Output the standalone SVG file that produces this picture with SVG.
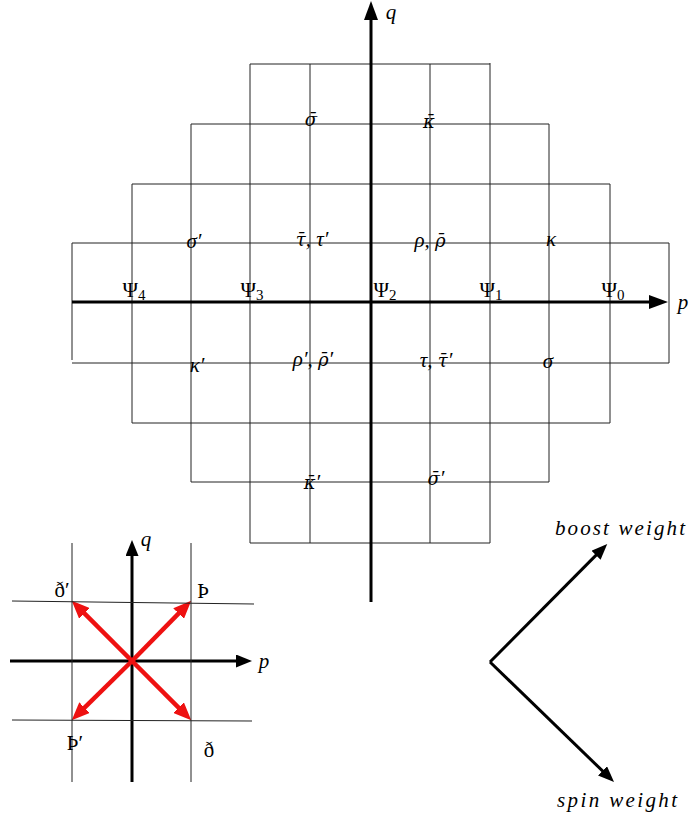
<svg xmlns="http://www.w3.org/2000/svg" width="690" height="823" viewBox="0 0 690 823">
<style>
.grid line{stroke:#222;stroke-width:1;fill:none}
.ax{stroke:#000;stroke-width:3;fill:none}
.red{stroke:#ee1111;stroke-width:4.5;fill:none}
.m{font-family:"Liberation Serif","DejaVu Serif",serif;font-style:italic;font-size:21px;fill:#000;text-anchor:middle}
.u{font-family:"Liberation Serif","DejaVu Serif",serif;font-size:21px;fill:#000;text-anchor:middle}
.s{font-size:15px;font-style:normal}
.ol{font-family:"DejaVu Serif",serif;font-size:18px}
</style>
<defs>
<marker id="ah" markerUnits="userSpaceOnUse" markerWidth="19" markerHeight="14" refX="11" refY="7" orient="auto"><path d="M0,0 L19,7 L0,14 z" fill="#000"/></marker>
<marker id="ahs" markerUnits="userSpaceOnUse" markerWidth="16" markerHeight="13" refX="9" refY="6.5" orient="auto"><path d="M0,0 L16,6.5 L0,13 z" fill="#000"/></marker>
<marker id="ar" markerUnits="userSpaceOnUse" markerWidth="18" markerHeight="15" refX="11" refY="7.5" orient="auto"><path d="M0,0 L18,7.5 L0,15 z" fill="#ee1111"/></marker>
</defs>

<g id="main-grid" class="grid">
<line x1="250" y1="64" x2="490" y2="64"/>
<line x1="191" y1="124" x2="549" y2="124"/>
<line x1="132" y1="184" x2="610" y2="184"/>
<line x1="72" y1="243" x2="669" y2="243"/>
<line x1="72" y1="363" x2="669" y2="363"/>
<line x1="132" y1="423" x2="610" y2="423"/>
<line x1="191" y1="482" x2="549" y2="482"/>
<line x1="250" y1="543" x2="490" y2="543"/>
<line x1="72" y1="243" x2="72" y2="360"/>
<line x1="132" y1="184" x2="132" y2="423"/>
<line x1="191" y1="124" x2="191" y2="482"/>
<line x1="250" y1="64" x2="250" y2="543"/>
<line x1="310" y1="64" x2="310" y2="543"/>
<line x1="430" y1="64" x2="430" y2="543"/>
<line x1="490" y1="63" x2="490" y2="543"/>
<line x1="549" y1="124" x2="549" y2="482"/>
<line x1="610" y1="184" x2="610" y2="423"/>
<line x1="669" y1="243" x2="669" y2="363"/>
</g>

<g id="connectors">
<line class="ax" x1="72" y1="302" x2="660" y2="302" marker-end="url(#ah)"/>
<line class="ax" x1="371" y1="602" x2="371" y2="9" marker-end="url(#ah)"/>
<line class="ax" x1="10" y1="661" x2="245" y2="661" marker-end="url(#ahs)"/>
<line class="ax" x1="132" y1="782" x2="132" y2="547" marker-end="url(#ahs)"/>
<line class="red" x1="132" y1="661" x2="76.7" y2="605.7" marker-end="url(#ar)"/>
<line class="red" x1="132" y1="661" x2="186.3" y2="605.7" marker-end="url(#ar)"/>
<line class="red" x1="132" y1="661" x2="76.7" y2="715.3" marker-end="url(#ar)"/>
<line class="red" x1="132" y1="661" x2="186.3" y2="715.3" marker-end="url(#ar)"/>
<line class="ax" x1="490" y1="662" x2="602.3" y2="548.9" marker-end="url(#ahs)"/>
<line class="ax" x1="490" y1="662" x2="609" y2="777.2" marker-end="url(#ahs)"/>
</g>

<g id="small-grid" class="grid">
<line x1="72" y1="543" x2="72" y2="782"/>
<line x1="191" y1="543" x2="191" y2="782"/>
<line x1="12" y1="601" x2="254" y2="604"/>
<line x1="12" y1="720" x2="252" y2="721"/>
</g>

<g id="axis-labels">
<text class="m" x="391" y="19">q</text>
<text class="m" x="683" y="309">p</text>
<text class="m" x="146" y="546">q</text>
<text class="m" x="264" y="668">p</text>
</g>

<g id="psi-labels">
<text class="u" x="134" y="297">Ψ<tspan class="s" dy="3">4</tspan></text>
<text class="u" x="252" y="297">Ψ<tspan class="s" dy="3">3</tspan></text>
<text class="u" x="385" y="297">Ψ<tspan class="s" dy="3">2</tspan></text>
<text class="u" x="491" y="297">Ψ<tspan class="s" dy="3">1</tspan></text>
<text class="u" x="613" y="297">Ψ<tspan class="s" dy="3">0</tspan></text>
</g>

<g id="coef-labels">
<text class="m" x="311" y="126"><tspan class="ol">σ̄</tspan></text>
<text class="m" x="429" y="128"><tspan class="ol">κ̄</tspan></text>
<text class="m" x="194" y="248">σ′</text>
<text class="m" x="312" y="246"><tspan class="ol">τ̄</tspan>, τ′</text>
<text class="m" x="430" y="247">ρ, <tspan class="ol">ρ̄</tspan></text>
<text class="m" x="551" y="246">κ</text>
<text class="m" x="197" y="372">κ′</text>
<text class="m" x="313" y="366">ρ′, <tspan class="ol">ρ̄</tspan>′</text>
<text class="m" x="436" y="367">τ, <tspan class="ol">τ̄</tspan>′</text>
<text class="m" x="548" y="368">σ</text>
<text class="m" x="312" y="489"><tspan class="ol">κ̄</tspan>′</text>
<text class="m" x="436" y="485"><tspan class="ol">σ̄</tspan>′</text>
</g>

<g id="operator-labels">
<text class="u" x="62" y="597">ð′</text>
<text class="u" x="203" y="598">Þ</text>
<text class="u" x="75" y="750">Þ′</text>
<text class="u" x="209" y="757">ð</text>
</g>

<g id="weight-labels">
<text class="m" x="555" y="535" style="text-anchor:start" textLength="130" lengthAdjust="spacing">boost weight</text>
<text class="m" x="557" y="807" style="text-anchor:start" textLength="120" lengthAdjust="spacing">spin weight</text>
</g>
</svg>
